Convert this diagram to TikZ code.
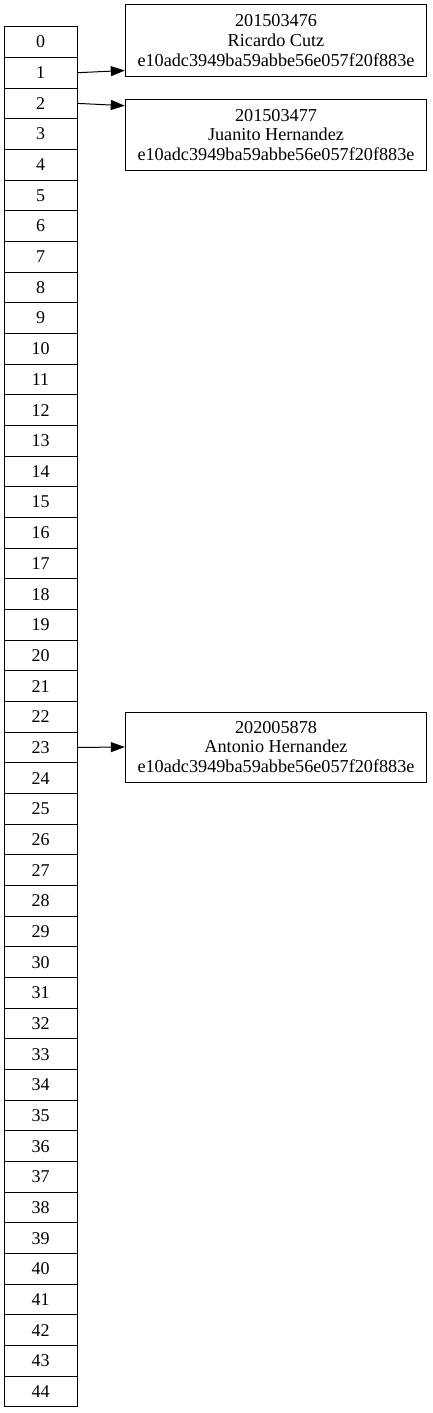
\documentclass[tikz,border=0pt]{standalone}
\usepackage{fontspec}
\setmainfont{Liberation Serif}
\usetikzlibrary{arrows.meta,calc}
\begin{document}
\begin{tikzpicture}[x=1pt,y=-1pt,
  cell/.style={draw,line width=1pt,minimum width=73pt,minimum height=30.67pt,inner sep=0pt,font=\fontsize{18}{19.5}\selectfont},
  rec/.style={draw,line width=1pt,minimum width=301.4pt,minimum height=71pt,inner sep=0pt,align=center,font=\fontsize{18.2}{19.7}\selectfont},
  link/.style={line width=1pt,-{Triangle[length=14pt,width=10pt]}}]
\useasboundingbox (0,0) rectangle (432,1413);
\foreach \i in {0,...,44} {
  \node[cell] (c\i) at (40.5,{26.7+(\i+0.5)*30.67}) {\i};
}
\node[rec] (b1) at (276,40.5) {201503476\\Ricardo Cutz\\e10adc3949ba59abbe56e057f20f883e};
\node[rec] (b2) at (276,135) {201503477\\Juanito Hernandez\\e10adc3949ba59abbe56e057f20f883e};
\node[rec,minimum height=70pt] (b3) at (276,747) {202005878\\Antonio Hernandez\\e10adc3949ba59abbe56e057f20f883e};
\coordinate (e1) at ($(b1.south west)+(0,-6)$);
\coordinate (e2) at ($(b2.north west)+(0,6.7)$);
\draw[link] (c1.east) -- (e1);
\draw[link] (c2.east) -- (e2);
\draw[link] (c23.east) -- (b3.west);
\end{tikzpicture}
\end{document}
